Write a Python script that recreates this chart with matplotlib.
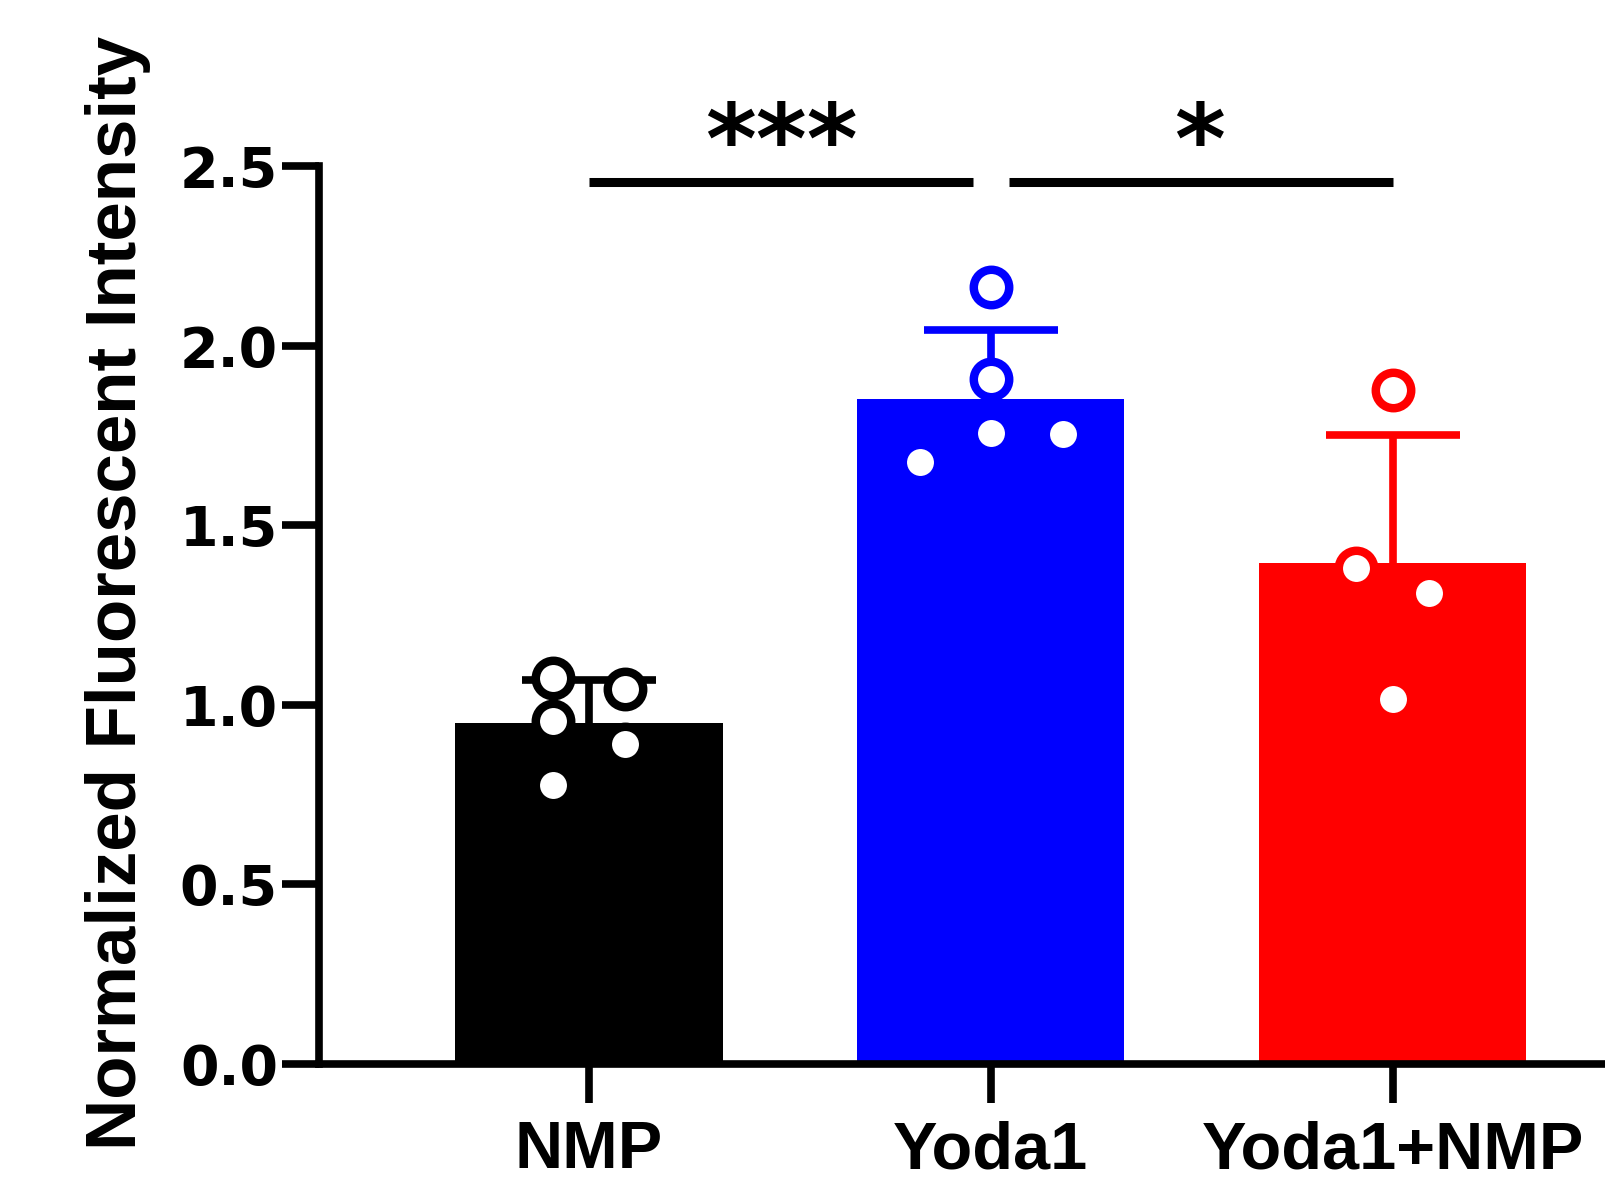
import matplotlib
matplotlib.use("Agg")
import matplotlib.pyplot as plt
import numpy as np


# Groups and individual points
GROUPS = ["NMP", "Yoda1", "Yoda1+NMP"]
COLORS = ["#000000", "#0000FF", "#FF0000"]

NMP_VALUES = [1.074, 0.954, 0.778, 1.044, 0.890]
NMP_OFFSETS = [-0.09, -0.09, -0.09, 0.09, 0.09]

YODA_VALUES = [2.162, 1.908, 1.758, 1.755, 1.677]
YODA_OFFSETS = [0.0, 0.0, 0.0, 0.18, -0.175]

COMBO_VALUES = [1.875, 1.381, 1.311, 1.016]
COMBO_OFFSETS = [0.0, -0.09, 0.09, 0.0]

Y_TICKS = [0.0, 0.5, 1.0, 1.5, 2.0, 2.5]
Y_LABEL = "Normalized Fluorescent Intensity"

# significance brackets: (x start, x end, y, text, text x)
SIG_BARS = [(0.0, 0.956, 2.455, "***", 0.48), (1.045, 2.0, 2.455, "*", 1.52)]

LW = 5.5

values = [NMP_VALUES, YODA_VALUES, COMBO_VALUES]
offsets = [NMP_OFFSETS, YODA_OFFSETS, COMBO_OFFSETS]
means = [np.mean(v) for v in values]
sds = [np.std(v, ddof=1) for v in values]
x = np.arange(len(GROUPS))

fig = plt.figure(figsize=(16.06, 11.83), dpi=100)
ax = fig.add_axes([0.1986, 0.1006, 0.8014, 0.7591])

ax.bar(x, means, width=0.665, color=COLORS, zorder=2)
for i in range(len(GROUPS)):
    # symmetric SD bar drawn behind the bar, so only the upper half shows
    ax.errorbar(x[i], means[i], yerr=sds[i], color=COLORS[i],
                elinewidth=LW, capsize=48, capthick=LW, zorder=1)
    ax.plot(x[i] + np.array(offsets[i]), values[i], "o", ms=25.5, mew=6.1,
            mfc="white", mec=COLORS[i], zorder=4, clip_on=False)

for x0, x1, y, label, tx in SIG_BARS:
    ax.plot([x0, x1], [y, y], color="black", lw=6.5, solid_capstyle="butt",
            clip_on=False, zorder=5)
    ax.text(tx, 2.48, label, ha="center", va="baseline", fontsize=70,
            fontweight="bold", family="DejaVu Sans", clip_on=False)

ax.set_xlim(-0.672, 2.531)
ax.set_ylim(0, 2.5)
ax.set_yticks(Y_TICKS)
ax.set_yticklabels([f"{t:.1f}" for t in Y_TICKS], fontsize=40,
                   fontweight="bold", family="DejaVu Sans")
ax.set_xticks(x)
ax.set_xticklabels(GROUPS, fontsize=48, fontweight="bold",
                   family="Liberation Sans")

for side in ["top", "right"]:
    ax.spines[side].set_visible(False)
for side in ["left", "bottom"]:
    ax.spines[side].set_linewidth(LW)
    ax.spines[side].set_zorder(6)
ax.tick_params(axis="y", length=27, width=LW, pad=2.5)
ax.tick_params(axis="x", length=28, width=LW, pad=12.5)

fig.text(0.0735, 0.9696, Y_LABEL, rotation=90, ha="center", va="top",
         fontsize=51, fontweight="bold", family="Liberation Sans")

fig.savefig("out.png", dpi=100)
